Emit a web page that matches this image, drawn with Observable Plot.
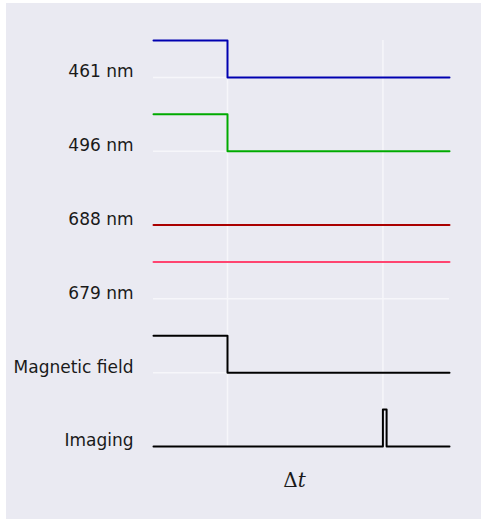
<!DOCTYPE html>
<html>
<head>
<meta charset="utf-8">
<script src="https://cdn.jsdelivr.net/npm/d3@7"></script>
<script src="https://cdn.jsdelivr.net/npm/@observablehq/plot@0.6"></script>
<style>
  html, body { margin: 0; padding: 0; background: #ffffff; }
  #fig { position: absolute; left: 6px; top: 3px; width: 475px; height: 516px; background: #eaeaf2; }
  #fig svg { display: block; }
</style>
</head>
<body>
<div id="fig"></div>
<script>
// Channels (top to bottom) and their baseline positions on the y scale
const channels = ["461 nm", "496 nm", "688 nm", "679 nm", "Magnetic field", "Imaging"];
const channelPos = [5, 4, 3, 2, 1, 0];
const highLevel = 0.5; // height of an "on" state above the channel baseline

// Step sequences: times and on/off states
const t461 = [0, 1, 4];          const s461 = [1, 0, 0];
const t496 = [0, 1, 4];          const s496 = [1, 0, 0];
const t688 = [0, 4];             const s688 = [0, 0];
const t679 = [0, 4];             const s679 = [1, 1];
const tMag = [0, 1, 4];          const sMag = [1, 0, 0];
const tImg = [0, 3.1, 3.15, 4];  const sImg = [0, 1, 0, 0];

const seriesColors = ["#0000b0", "#00aa00", "#aa0000", "#ff4470", "#000000", "#000000"];
const gridTimes = [1, 3.1];
const xLabel = [{text: "Δt", t: 1.905}];

const seriesT = [t461, t496, t688, t679, tMag, tImg];
const seriesS = [s461, s496, s688, s679, sMag, sImg];

const lineMarks = seriesT.map((ts, i) => {
  const rows = ts.map((t, j) => ({t, y: channelPos[i] + highLevel * seriesS[i][j]}));
  return Plot.line(rows, {x: "t", y: "y", curve: "step-after", stroke: seriesColors[i], strokeWidth: 2});
});

const chart = Plot.plot({
  width: 475,
  height: 516,
  marginLeft: 147,
  marginRight: 32,
  marginTop: 37,
  marginBottom: 73,
  style: {background: "transparent", fontFamily: "DejaVu Sans"},
  x: {domain: [0, 4], axis: null},
  y: {domain: [0, 5.5], axis: null},
  marks: [
    Plot.ruleY(channelPos, {stroke: "#f6f6fa", strokeWidth: 1.5}),
    Plot.ruleX(gridTimes, {stroke: "#f6f6fa", strokeWidth: 1.5}),
    ...lineMarks,
    Plot.axisY({
      ticks: channelPos,
      tickFormat: (d) => channels[channelPos.indexOf(d)],
      tickSize: 0,
      tickPadding: 20,
      fontSize: 17,
      dy: -5.5,
      fill: "#1a1a1a",
      label: null
    }),
    Plot.text(xLabel, {
      x: "t",
      text: "text",
      frameAnchor: "bottom",
      dy: 40,
      fontSize: 20,
      fontFamily: "DejaVu Serif",
      fill: "#1a1a1a",
      className: "dt-label"
    })
  ]
});

// Render the "t" of Δt in italic, like the math-mode label
d3.select(chart).selectAll(".dt-label text").each(function() {
  const el = d3.select(this);
  const txt = el.text();
  el.text(txt.slice(0, 1));
  el.append("tspan").attr("font-style", "italic").text(txt.slice(1));
});

document.getElementById("fig").appendChild(chart);
</script>
</body>
</html>
